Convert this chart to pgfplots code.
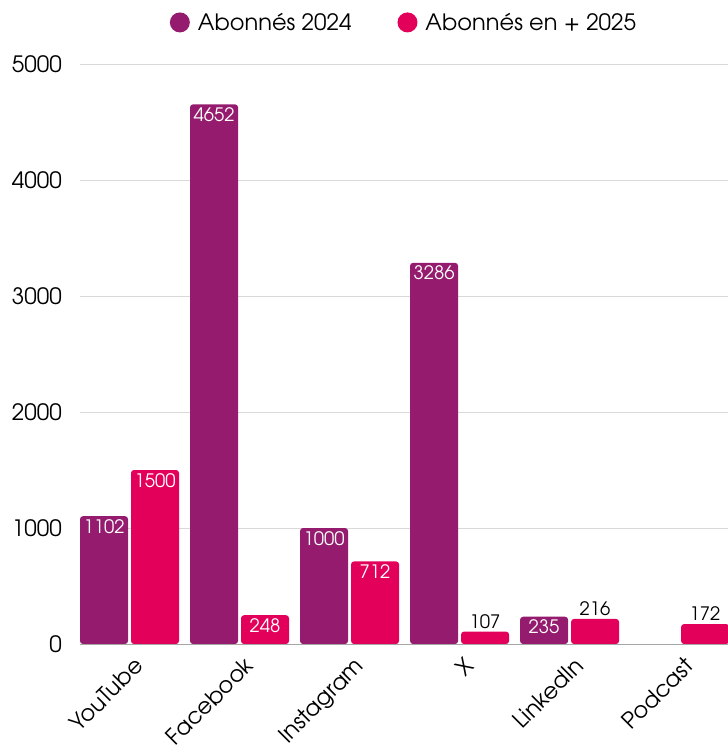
\documentclass[border=0pt]{standalone}
\usepackage{pgfplots}
\pgfplotsset{compat=1.18}
\usepackage{fontspec}
\setmainfont{TeX Gyre Adventor}
\definecolor{cA}{HTML}{951B6F}
\definecolor{cB}{HTML}{E3005B}
\definecolor{gridc}{HTML}{D9D9D9}
\definecolor{basec}{HTML}{A6A6A6}
\begin{document}
\begin{tikzpicture}
\useasboundingbox (-80pt,-106pt) rectangle (648pt,644pt);
\begin{axis}[
  at={(0pt,0pt)}, anchor=south west,
  width=648pt, height=580pt, scale only axis,
  xmin=-0.45, xmax=5.44, ymin=0, ymax=5000,
  axis line style={draw=none},
  ytick={0,1000,2000,3000,4000,5000},
  xtick={0,1,2,3,4,5},
  xticklabels={YouTube,Facebook,Instagram,X,LinkedIn,Podcast},
  major tick length=0pt,
  ymajorgrids, grid style={gridc, line width=0.8pt},
  /pgf/number format/assume math mode=true,
  /pgf/number format/1000 sep={},
  yticklabel style={font=\fontsize{22.5}{24}\selectfont, anchor=east, inner sep=0pt},
  yticklabel shift=18pt,
  xticklabel style={font=\fontsize{22.5}{24}\selectfont, rotate=45, anchor=north east, inner sep=0pt, xshift=5pt},
  xticklabel shift=15pt,
  legend style={at={(0.5,1)}, anchor=south, yshift=28pt, draw=none, fill=none,
    legend columns=2, font=\fontsize{22.5}{24}\selectfont,
    /tikz/every even column/.append style={column sep=44pt}},
  legend image code/.code={\fill[#1] (0pt,0pt) circle (10pt); \path (16pt,0pt);},
  clip=true,
]
\addlegendimage{fill=cA, draw=none}
\addlegendentry{Abonnés 2024}
\addlegendimage{fill=cB, draw=none}
\addlegendentry{Abonnés en + 2025}
% bars
\addplot[ybar, bar width=48pt, bar shift=-25.5pt, fill=cA, draw=none, rounded corners=3pt, forget plot]
  coordinates {(0,1102) (1,4652) (2,1000) (3,3286) (4,235)};
\addplot[ybar, bar width=48pt, bar shift=25.5pt, fill=cB, draw=none, rounded corners=3pt, forget plot]
  coordinates {(0,1500) (1,248) (2,712) (3,107) (4,216) (5,172)};
% labels inside
\addplot[ybar, bar width=48pt, bar shift=-25.5pt, draw=none, fill=none, forget plot,
  nodes near coords, point meta=y,
  nodes near coords style={white, anchor=north, inner sep=3pt, xshift=-25.5pt, font=\fontsize{18.5}{19}\selectfont,
    /pgf/number format/1000 sep={}, /pgf/number format/assume math mode=true}]
  coordinates {(0,1102) (1,4652) (2,1000) (3,3286) (4,235)};
\addplot[ybar, bar width=48pt, bar shift=25.5pt, draw=none, fill=none, forget plot,
  nodes near coords, point meta=y,
  nodes near coords style={white, anchor=north, inner sep=3pt, xshift=25.5pt, font=\fontsize{18.5}{19}\selectfont,
    /pgf/number format/1000 sep={}, /pgf/number format/assume math mode=true}]
  coordinates {(0,1500) (1,248) (2,712)};
% labels above
\addplot[ybar, bar width=48pt, bar shift=25.5pt, draw=none, fill=none, forget plot,
  nodes near coords, point meta=y,
  nodes near coords style={black, anchor=south, inner sep=3pt, xshift=25.5pt, font=\fontsize{18.5}{19}\selectfont,
    /pgf/number format/1000 sep={}, /pgf/number format/assume math mode=true}]
  coordinates {(3,107) (4,216) (5,172)};
\draw[basec, line width=1pt] (axis cs:-0.45,0) -- (axis cs:5.44,0);
\end{axis}
\end{tikzpicture}
\end{document}
